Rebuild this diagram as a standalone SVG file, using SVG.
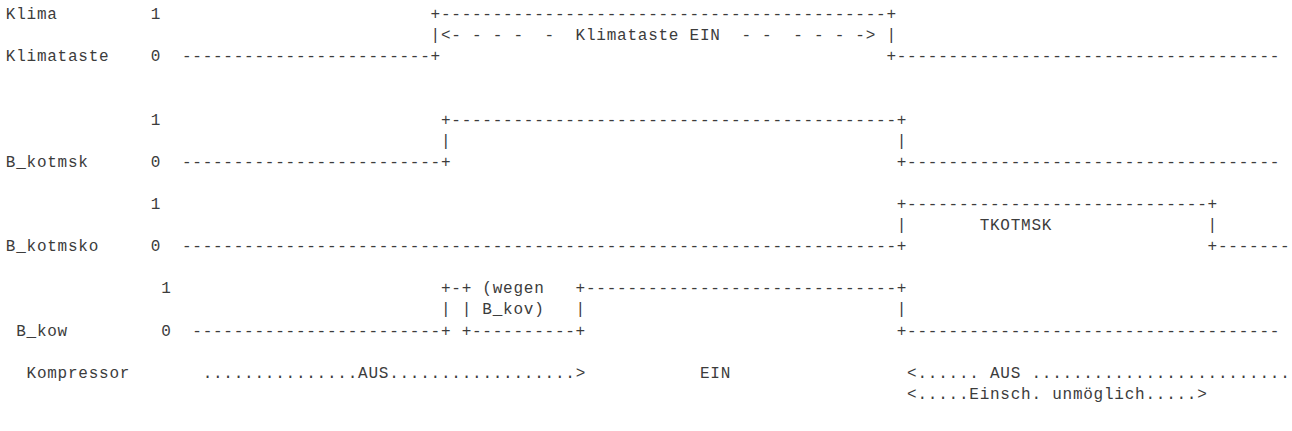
<svg xmlns="http://www.w3.org/2000/svg" width="1292" height="431" viewBox="0 0 1292 431" xml:space="preserve">
<style>
text { font-family: 'Liberation Mono', 'DejaVu Sans Mono', monospace; font-size: 16px; letter-spacing: 0.76px; fill: #3c3c3c; white-space: pre; }
</style>
<rect width="1292" height="431" fill="#ffffff"/>
<g id="sig-klima">
<text x="5.8" y="19">Klima</text>
<text x="150.84" y="19">1</text>
<text x="5.8" y="61.2">Klimataste</text>
<text x="150.84" y="61.2">0</text>
</g>
<g id="sig-b-kotmsk">
<text x="150.84" y="124.5">1</text>
<text x="5.8" y="166.7">B_kotmsk</text>
<text x="150.84" y="166.7">0</text>
</g>
<g id="sig-b-kotmsko">
<text x="150.84" y="208.9">1</text>
<text x="5.8" y="251.1">B_kotmsko</text>
<text x="150.84" y="251.1">0</text>
</g>
<g id="sig-b-kow">
<text x="161.2" y="293.3">1</text>
<text x="16.16" y="335.5">B_kow</text>
<text x="161.2" y="335.5">0</text>
</g>
<g id="sig-kompressor">
<text x="26.52" y="377.7">Kompressor</text>
<text x="202.64" y="377.7">...............AUS..................&gt;</text>
<text x="699.92" y="377.7">EIN</text>
<text x="907.12" y="377.7">&lt;...... AUS .........................</text>
<text x="907.12" y="398.8">&lt;.....Einsch. unmöglich.....&gt;</text>
</g>
<g id="connectors">
<text x="430.56" y="19">+-------------------------------------------+</text>
<text x="430.56" y="40.1">|&lt;- - - -  -  Klimataste EIN  - -  - - - -&gt; |</text>
<text x="181.92" y="61.2">------------------------+</text>
<text x="886.4" y="61.2">+-------------------------------------</text>
<text x="440.92" y="124.5">+-------------------------------------------+</text>
<text x="440.92" y="145.6">|</text>
<text x="896.76" y="145.6">|</text>
<text x="181.92" y="166.7">-------------------------+</text>
<text x="896.76" y="166.7">+------------------------------------</text>
<text x="896.76" y="208.9">+-----------------------------+</text>
<text x="896.76" y="230">|</text>
<text x="979.64" y="230">TKOTMSK</text>
<text x="1207.56" y="230">|</text>
<text x="181.92" y="251.1">---------------------------------------------------------------------+</text>
<text x="1207.56" y="251.1">+-------</text>
<text x="440.92" y="293.3">+-+</text>
<text x="482.36" y="293.3">(wegen</text>
<text x="575.6" y="293.3">+------------------------------+</text>
<text x="440.92" y="314.4">|</text>
<text x="461.64" y="314.4">|</text>
<text x="482.36" y="314.4">B_kov)</text>
<text x="575.6" y="314.4">|</text>
<text x="896.76" y="314.4">|</text>
<text x="192.28" y="335.5">------------------------+</text>
<text x="461.64" y="335.5">+----------+</text>
<text x="896.76" y="335.5">+------------------------------------</text>
</g>
</svg>
